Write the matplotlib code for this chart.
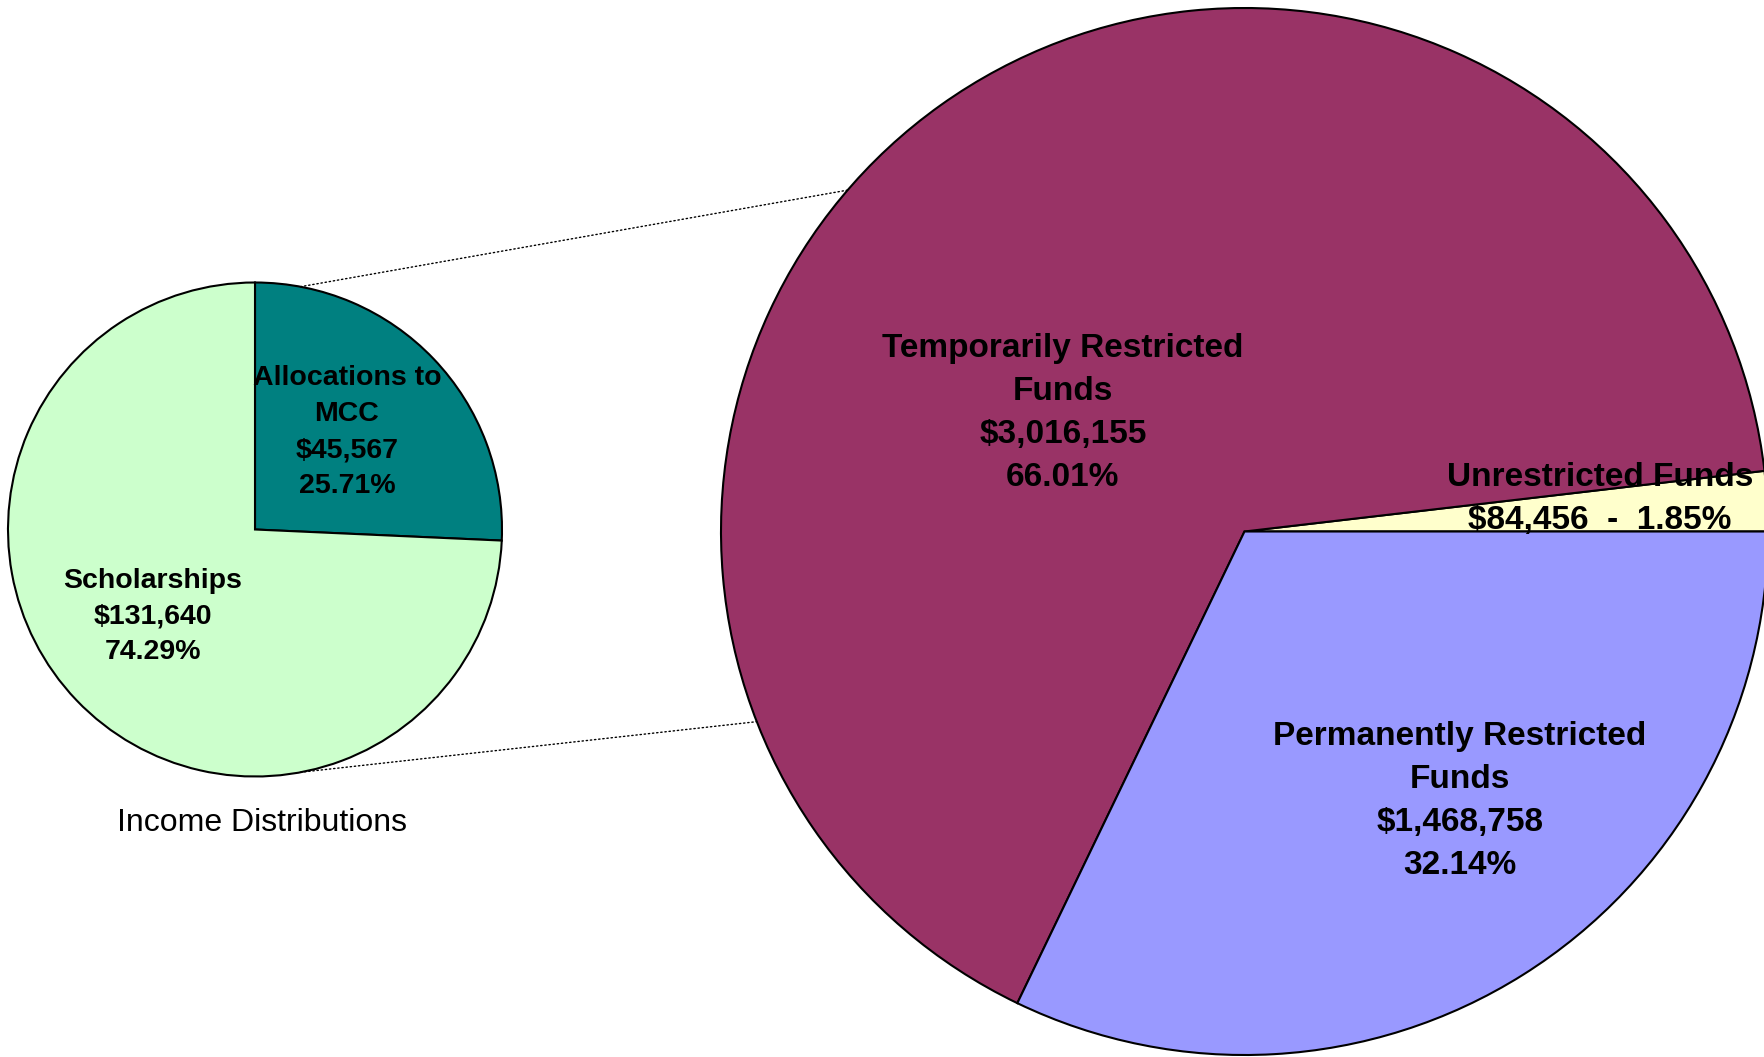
import numpy as np
import matplotlib
matplotlib.use("Agg")
import matplotlib.pyplot as plt
from matplotlib.patches import ConnectionPatch

plt.rcParams["font.family"] = ["Liberation Sans", "DejaVu Sans"]

# Fund balances (main pie) and the income distribution breakdown (secondary pie).
fund_names = ["Unrestricted Funds", "Temporarily Restricted\nFunds",
              "Permanently Restricted\nFunds"]
fund_values = [84456, 3016155, 1468758]
fund_colors = ["#FFFFCC", "#993366", "#9999FF"]

income_names = ["Allocations to\nMCC", "Scholarships"]
income_values = [45567, 131640]
income_colors = ["#008080", "#CCFFCC"]

income_title = "Income Distributions"

W, H = 1764, 1057


def pixel_axes(fig, cx, cy, r):
    """Axes whose unit circle sits at pixel centre (cx, cy) with radius r."""
    return fig.add_axes([(cx - r) / W, (H - cy - r) / H, 2 * r / W, 2 * r / H])


def unit_limits(ax):
    # pie() resets the limits with a margin, so pin them back to the unit circle
    ax.set_xlim(-1, 1)
    ax.set_ylim(-1, 1)
    ax.set_aspect("auto")
    ax.axis("off")


def money(v):
    return "${:,}".format(v)


fig = plt.figure(figsize=(W / 100, H / 100), dpi=100)

# Main pie.
ax_big = pixel_axes(fig, 1244.5, 531.5, 523.5)
wedges, _ = ax_big.pie(fund_values, colors=fund_colors, startangle=0,
    counterclock=True, radius=1.0,
    wedgeprops=dict(edgecolor="black", linewidth=1.5))
unit_limits(ax_big)
for w in wedges:
    w.set_clip_on(False)

total = sum(fund_values)
pct = [100.0 * v / total for v in fund_values]
big_pos = [(0.679, 0.063), (-0.347, 0.226), (0.411, -0.514)]
big_text = [
    "{}\n{}  -  {:.2f}%".format(fund_names[0], money(fund_values[0]), pct[0]),
    "{}\n{}\n{:.2f}%".format(fund_names[1], money(fund_values[1]), pct[1]),
    "{}\n{}\n{:.2f}%".format(fund_names[2], money(fund_values[2]), pct[2]),
]
for (x, y), t in zip(big_pos, big_text):
    ax_big.text(x, y, t, ha="center", va="center", fontsize=24,
        fontweight="bold", linespacing=1.5, clip_on=False)

# Secondary pie.
ax_small = pixel_axes(fig, 255, 529.5, 247)
ax_small.pie(income_values, colors=income_colors, startangle=90,
    counterclock=False, radius=1.0,
    wedgeprops=dict(edgecolor="black", linewidth=1.5))
unit_limits(ax_small)

itotal = sum(income_values)
ipct = [100.0 * v / itotal for v in income_values]
small_pos = [(0.372, 0.394), (-0.413, -0.352)]
for (x, y), n, v, p in zip(small_pos, income_names, income_values, ipct):
    ax_small.text(x, y, "{}\n{}\n{:.2f}%".format(n, money(v), p),
        ha="center", va="center", fontsize=20.5, fontweight="bold",
        linespacing=1.49, clip_on=False)

ax_small.text(0.03, -1.189, income_title, ha="center", va="center",
    fontsize=23, clip_on=False)

# Dotted connector lines between the two pies.
for a_small, a_big in [(79.4, 139.3), (-79.4, 201.3)]:
    pa = (np.cos(np.radians(a_small)), np.sin(np.radians(a_small)))
    pb = (np.cos(np.radians(a_big)), np.sin(np.radians(a_big)))
    con = ConnectionPatch(xyA=pa, coordsA=ax_small.transData,
        xyB=pb, coordsB=ax_big.transData, color="black",
        linestyle=(0, (1, 2)), linewidth=1.0)
    fig.add_artist(con)

fig.savefig("out.png", dpi=100, facecolor="white")
